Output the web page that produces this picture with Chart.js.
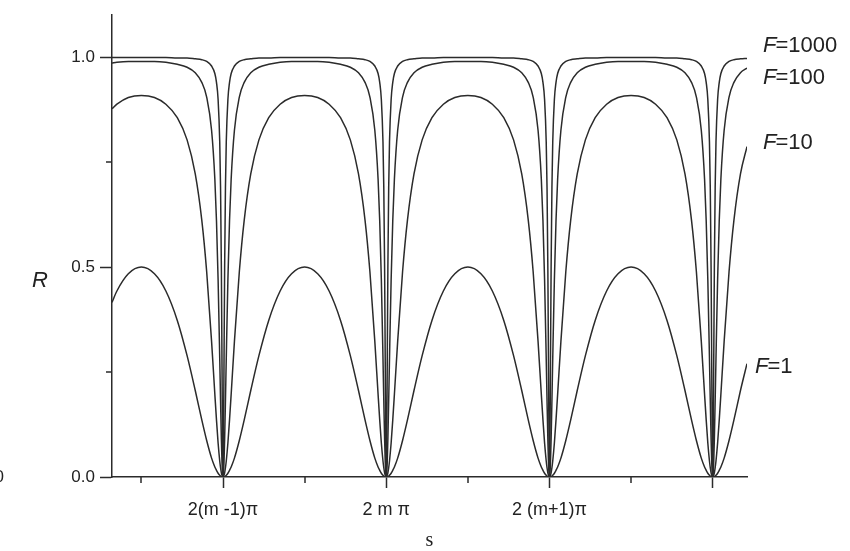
<!DOCTYPE html>
<html><head><meta charset="utf-8">
<script src="https://cdn.jsdelivr.net/npm/chart.js@4.4.0/dist/chart.umd.min.js"></script>
<style>html,body{margin:0;padding:0;background:#fff;}canvas{display:block;}</style>
</head><body>
<canvas id="c" width="850" height="551"></canvas>
<script>
// phase (in units of 2π, zeros at 2(m-1)π = -1, 2mπ = 0, 2(m+1)π = 1, ...)
const phase = [
 -1.68,-1.65,-1.58,-1.5,
 -1.42,-1.35,-1.28,-1.22,-1.17,-1.13,-1.1,-1.07,-1.05,-1.04,-1.03,-1.02,-1.015,-1.01,-1.006,-1.003,-1,
 -0.997,-0.994,-0.99,-0.985,-0.98,-0.97,-0.96,-0.95,-0.93,-0.9,-0.87,-0.83,-0.78,-0.72,-0.65,-0.58,-0.5,
 -0.42,-0.35,-0.28,-0.22,-0.17,-0.13,-0.1,-0.07,-0.05,-0.04,-0.03,-0.02,-0.015,-0.01,-0.006,-0.003,0,
 0.003,0.006,0.01,0.015,0.02,0.03,0.04,0.05,0.07,0.1,0.13,0.17,0.22,0.28,0.35,0.42,0.5,
 0.58,0.65,0.72,0.78,0.83,0.87,0.9,0.93,0.95,0.96,0.97,0.98,0.985,0.99,0.994,0.997,1,
 1.003,1.006,1.01,1.015,1.02,1.03,1.04,1.05,1.07,1.1,1.13,1.17,1.22,1.28,1.35,1.42,1.5,
 1.58,1.65,1.72,1.78,1.83,1.87,1.9,1.93,1.95,1.96,1.97,1.98,1.985,1.99,1.994,1.997,2,
 2.003,2.006,2.01,2.015,2.02,2.03,2.04,2.05,2.07,2.1,2.13,2.17,2.21
];
const R_F1000 = [
 0.999,0.999,0.999,0.999,
 0.999,0.999,0.998,0.998,0.996,0.994,0.990,0.979,0.961,0.940,0.899,0.798,0.689,0.497,0.262,0.081,0,
 0.081,0.262,0.497,0.689,0.798,0.899,0.940,0.961,0.979,0.990,0.994,0.996,0.998,0.998,0.999,0.999,0.999,
 0.999,0.999,0.998,0.998,0.996,0.994,0.990,0.979,0.961,0.940,0.899,0.798,0.689,0.497,0.262,0.081,0,
 0.081,0.262,0.497,0.689,0.798,0.899,0.940,0.961,0.979,0.990,0.994,0.996,0.998,0.998,0.999,0.999,0.999,
 0.999,0.999,0.998,0.998,0.996,0.994,0.990,0.979,0.961,0.940,0.899,0.798,0.689,0.497,0.262,0.081,0,
 0.081,0.262,0.497,0.689,0.798,0.899,0.940,0.961,0.979,0.990,0.994,0.996,0.998,0.998,0.999,0.999,0.999,
 0.999,0.999,0.998,0.998,0.996,0.994,0.990,0.979,0.961,0.940,0.899,0.798,0.689,0.497,0.262,0.081,0,
 0.081,0.262,0.497,0.689,0.798,0.899,0.940,0.961,0.979,0.990,0.994,0.996,0.997
];
const R_F100 = [
 0.986,0.988,0.990,0.990,
 0.990,0.988,0.983,0.976,0.963,0.940,0.905,0.826,0.710,0.611,0.470,0.283,0.182,0.090,0.034,0.009,0,
 0.009,0.034,0.090,0.182,0.283,0.470,0.611,0.710,0.826,0.905,0.940,0.963,0.976,0.983,0.988,0.990,0.990,
 0.990,0.988,0.983,0.976,0.963,0.940,0.905,0.826,0.710,0.611,0.470,0.283,0.182,0.090,0.034,0.009,0,
 0.009,0.034,0.090,0.182,0.283,0.470,0.611,0.710,0.826,0.905,0.940,0.963,0.976,0.983,0.988,0.990,0.990,
 0.990,0.988,0.983,0.976,0.963,0.940,0.905,0.826,0.710,0.611,0.470,0.283,0.182,0.090,0.034,0.009,0,
 0.009,0.034,0.090,0.182,0.283,0.470,0.611,0.710,0.826,0.905,0.940,0.963,0.976,0.983,0.988,0.990,0.990,
 0.990,0.988,0.983,0.976,0.963,0.940,0.905,0.826,0.710,0.611,0.470,0.283,0.182,0.090,0.034,0.009,0,
 0.009,0.034,0.090,0.182,0.283,0.470,0.611,0.710,0.826,0.905,0.940,0.963,0.974
];
const R_F10 = [
 0.877,0.888,0.904,0.909,
 0.904,0.888,0.856,0.803,0.722,0.612,0.489,0.323,0.197,0.136,0.081,0.038,0.022,0.010,0.004,0.001,0,
 0.001,0.004,0.010,0.022,0.038,0.081,0.136,0.197,0.323,0.489,0.612,0.722,0.803,0.856,0.888,0.904,0.909,
 0.904,0.888,0.856,0.803,0.722,0.612,0.489,0.323,0.197,0.136,0.081,0.038,0.022,0.010,0.004,0.001,0,
 0.001,0.004,0.010,0.022,0.038,0.081,0.136,0.197,0.323,0.489,0.612,0.722,0.803,0.856,0.888,0.904,0.909,
 0.904,0.888,0.856,0.803,0.722,0.612,0.489,0.323,0.197,0.136,0.081,0.038,0.022,0.010,0.004,0.001,0,
 0.001,0.004,0.010,0.022,0.038,0.081,0.136,0.197,0.323,0.489,0.612,0.722,0.803,0.856,0.888,0.904,0.909,
 0.904,0.888,0.856,0.803,0.722,0.612,0.489,0.323,0.197,0.136,0.081,0.038,0.022,0.010,0.004,0.001,0,
 0.001,0.004,0.010,0.022,0.038,0.081,0.136,0.197,0.323,0.489,0.612,0.722,0.787
];
const R_F1 = [
 0.416,0.443,0.484,0.500,
 0.484,0.443,0.373,0.289,0.206,0.136,0.087,0.045,0.024,0.016,0.009,0.004,0.002,0.001,0.000,0.000,0,
 0.000,0.000,0.001,0.002,0.004,0.009,0.016,0.024,0.045,0.087,0.136,0.206,0.289,0.373,0.443,0.484,0.500,
 0.484,0.443,0.373,0.289,0.206,0.136,0.087,0.045,0.024,0.016,0.009,0.004,0.002,0.001,0.000,0.000,0,
 0.000,0.000,0.001,0.002,0.004,0.009,0.016,0.024,0.045,0.087,0.136,0.206,0.289,0.373,0.443,0.484,0.500,
 0.484,0.443,0.373,0.289,0.206,0.136,0.087,0.045,0.024,0.016,0.009,0.004,0.002,0.001,0.000,0.000,0,
 0.000,0.000,0.001,0.002,0.004,0.009,0.016,0.024,0.045,0.087,0.136,0.206,0.289,0.373,0.443,0.484,0.500,
 0.484,0.443,0.373,0.289,0.206,0.136,0.087,0.045,0.024,0.016,0.009,0.004,0.002,0.001,0.000,0.000,0,
 0.000,0.000,0.001,0.002,0.004,0.009,0.016,0.024,0.045,0.087,0.136,0.206,0.270
];
const seriesNames = ['1000', '100', '10', '1'];
const xMajorTicks = [-1, 0, 1, 2];
const xTickLabels = ['2(m -1)\u03C0', '2 m \u03C0', '2 (m+1)\u03C0', ''];
const xMinorTicks = [-1.5, -0.5, 0.5, 1.5];
const yMajorTicks = [0, 0.5, 1.0];
const yTickLabels = ['0.0', '0.5', '1.0'];
const yMinorTicks = [0.25, 0.75];

const seriesValues = [R_F1000, R_F100, R_F10, R_F1];
const INK = '#2b2b2b';
const SANS = '"Liberation Sans", Arial, sans-serif';

const labelPlugin = {
  id: 'labels',
  afterDraw(chart) {
    const {ctx, chartArea: ca} = chart;
    const xs = chart.scales.x, ys = chart.scales.y;
    ctx.save();
    ctx.strokeStyle = INK; ctx.lineWidth = 1.5;
    ctx.beginPath();
    xMinorTicks.forEach(v => { const p = Math.round(xs.getPixelForValue(v)); ctx.moveTo(p, ca.bottom); ctx.lineTo(p, ca.bottom + 6); });
    yMinorTicks.forEach(v => { const p = Math.round(ys.getPixelForValue(v)); ctx.moveTo(ca.left, p); ctx.lineTo(ca.left - 6, p); });
    ctx.stroke();
    // series labels at the right end of each curve
    const offs = [[16, -13], [16, 10], [16, -4], [8, 3]];
    ctx.fillStyle = '#222'; ctx.textBaseline = 'middle'; ctx.textAlign = 'left';
    seriesValues.forEach((arr, i) => {
      const yv = ys.getPixelForValue(arr[arr.length - 1]) + offs[i][1];
      let x = ca.right + offs[i][0];
      ctx.font = 'italic 22px ' + SANS; ctx.fillText('F', x, yv);
      x += ctx.measureText('F').width - 1;
      ctx.font = '22px ' + SANS; ctx.fillText('=' + seriesNames[i], x, yv);
    });
    // y-axis title
    ctx.font = 'italic 22px ' + SANS; ctx.textAlign = 'center';
    ctx.fillText('R', 40, (ca.top + ca.bottom) / 2 + 35);
    // cut-off fragment at the left edge
    ctx.font = '17px ' + SANS; ctx.textAlign = 'right';
    ctx.fillText('0', 4, ca.bottom);
    ctx.restore();
  }
};

new Chart(document.getElementById('c'), {
  type: 'line',
  data: {
    datasets: seriesValues.map((arr, i) => ({
      label: 'F=' + seriesNames[i],
      data: phase.map((x, k) => ({x: x, y: arr[k]})),
      borderColor: INK, borderWidth: 1.5, pointRadius: 0, fill: false,
      cubicInterpolationMode: 'monotone'
    }))
  },
  options: {
    responsive: false, animation: false, devicePixelRatio: 1,
    layout: {padding: {left: 0, right: 103, top: 9, bottom: 0}},
    plugins: {legend: {display: false}, tooltip: {enabled: false}},
    scales: {
      x: {
        type: 'linear', min: -1.68, max: 2.21,
        afterBuildTicks: s => { s.ticks = xMajorTicks.map(v => ({value: v})); },
        afterFit: s => { s.height = 74; },
        ticks: {callback: (v, i) => xTickLabels[i], padding: 11, color: '#222', autoSkip: false, maxRotation: 0,
                font: {family: SANS, size: 18}},
        grid: {drawOnChartArea: false, tickLength: 11, tickColor: INK, tickWidth: 1.5},
        border: {color: INK, width: 1.5},
        title: {display: true, text: 's', color: '#222', font: {family: '"Liberation Serif", serif', size: 20, lineHeight: 1},
                padding: {top: 0, bottom: 0}}
      },
      y: {
        min: 0, max: 1.1,
        afterBuildTicks: s => { s.ticks = yMajorTicks.map(v => ({value: v})); },
        afterFit: s => { s.width = 112; },
        ticks: {callback: (v, i) => yTickLabels[i], padding: 5, color: '#222', font: {family: SANS, size: 17}},
        grid: {drawOnChartArea: false, tickLength: 12, tickColor: INK, tickWidth: 1.5},
        border: {color: INK, width: 1.5}
      }
    }
  },
  plugins: [labelPlugin]
});
</script>
</body></html>
